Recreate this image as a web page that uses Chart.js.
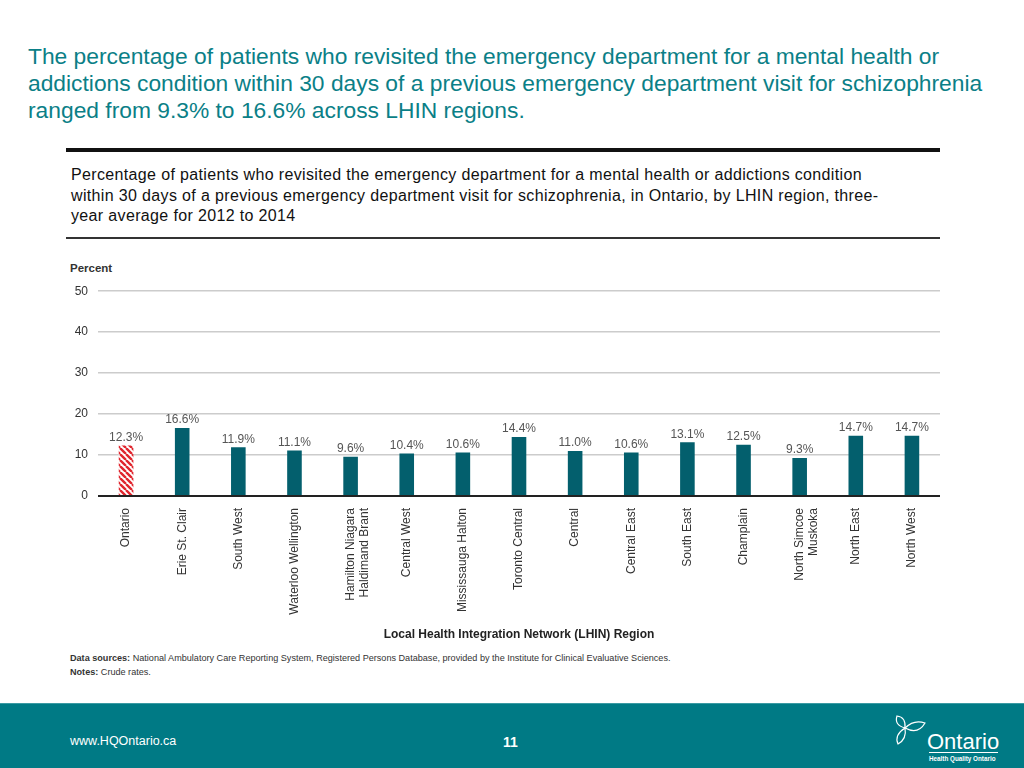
<!DOCTYPE html>
<html>
<head>
<meta charset="utf-8">
<script src="https://cdn.jsdelivr.net/npm/chart.js@4"></script>
<style>
  html, body { margin: 0; padding: 0; background: #fff; }
  body { width: 1024px; height: 768px; position: relative; overflow: hidden; font-family: "Liberation Sans", Arial, sans-serif; }
  .title { position: absolute; left: 28px; top: 43px; width: 990px; color: #0b7f87; font-size: 22.8px; line-height: 27px; white-space: nowrap; }
  .rule-top { position: absolute; left: 66px; top: 148px; width: 874px; height: 4px; background: #111; }
  .subtitle { position: absolute; left: 71px; top: 165px; width: 900px; color: #111; font-size: 16px; letter-spacing: 0.35px; line-height: 20.5px; white-space: nowrap; }
  .rule-bot { position: absolute; left: 66px; top: 237px; width: 874px; height: 2px; background: #333; }
  .percent { position: absolute; left: 70px; top: 262px; font-size: 11.5px; color: #333; font-weight: bold; }
  #chartBox { position: absolute; left: 0; top: 274px; width: 1024px; height: 374px; }
  .notes { position: absolute; left: 70px; top: 651px; font-size: 9.1px; line-height: 14px; color: #333; }
  .footer { position: absolute; left: 0; top: 703px; width: 1024px; height: 65px; background: #007a85; border-top: 1px solid #3a9aa3; }
  .url { position: absolute; left: 70px; top: 30px; color: #fff; font-size: 12.5px; }
  .page { position: absolute; left: 503px; top: 30px; color: #fff; font-size: 14px; font-weight: bold; }
  .logo { position: absolute; left: 927px; top: 25px; color: #fff; font-size: 22px; }
  .logo-line { position: absolute; left: 929px; top: 48px; width: 69px; height: 1px; background: #fff; }
  .logo-sub { position: absolute; left: 929px; top: 51px; color: #fff; font-size: 6.3px; font-weight: bold; }
  .trillium { position: absolute; left: 888px; top: 5px; }
</style>
</head>
<body>
<div class="title">The percentage of patients who revisited the emergency department for a mental health or<br>addictions condition within 30 days of a previous emergency department visit for schizophrenia<br>ranged from 9.3% to 16.6% across LHIN regions.</div>
<div class="rule-top"></div>
<div class="subtitle">Percentage of patients who revisited the emergency department for a mental health or addictions condition<br>within 30 days of a previous emergency department visit for schizophrenia, in Ontario, by LHIN region, three-<br>year average for 2012 to 2014</div>
<div class="rule-bot"></div>
<div class="percent">Percent</div>
<div id="chartBox"><canvas id="lhinChart"></canvas></div>
<div class="notes"><b>Data sources:</b> National Ambulatory Care Reporting System, Registered Persons Database, provided by the Institute for Clinical Evaluative Sciences.<br><b>Notes:</b> Crude rates.</div>
<div class="footer">
  <svg class="trillium" width="42" height="42" viewBox="0 0 42 42" fill="none" stroke="#fff" stroke-width="1.2">
    <path d="M17 19 Q6 16 9 7 Q18 8 17 19 Z"/>
    <path d="M17 19 Q26 10 37 14 Q30 26 17 19 Z"/>
    <path d="M17 19 Q19 30 10 35 Q6 26 17 19 Z"/>
  </svg>
  <div class="url">www.HQOntario.ca</div>
  <div class="page">11</div>
  <div class="logo">Ontario</div>
  <div class="logo-line"></div>
  <div class="logo-sub">Health Quality Ontario</div>
</div>

<script>
// --- 資料 ---
const regions = ['Ontario', 'Erie St. Clair', 'South West', 'Waterloo Wellington',
  ['Hamilton Niagara', 'Haldimand Brant'], 'Central West', 'Mississauga Halton',
  'Toronto Central', 'Central', 'Central East', 'South East', 'Champlain',
  ['North Simcoe', 'Muskoka'], 'North East', 'North West'];
const revisitPct = [12.3, 16.6, 11.9, 11.1, 9.6, 10.4, 10.6, 14.4, 11.0, 10.6, 13.1, 12.5, 9.3, 14.7, 14.7];
const yTicks = [0, 10, 20, 30, 40, 50];
const xTitle = 'Local Health Integration Network (LHIN) Region';

const FONT = '"Liberation Sans", Arial, sans-serif';

// 紅白斜線 (Ontario 平均)
function makeHatch() {
  const c = document.createElement('canvas');
  c.width = 6; c.height = 6;
  const g = c.getContext('2d');
  g.fillStyle = '#ffffff';
  g.fillRect(0, 0, 6, 6);
  g.strokeStyle = '#e0262e';
  g.lineWidth = 2.4;
  g.beginPath();
  for (let k = -6; k <= 6; k += 6) {
    g.moveTo(k, 0);
    g.lineTo(k + 6, 6);
  }
  g.stroke();
  return g.createPattern(c, 'repeat');
}
const hatch = makeHatch();
const barColors = revisitPct.map((v, i) => i === 0 ? hatch : '#035f6d');

// 數值標籤
const valueLabels = {
  id: 'valueLabels',
  afterDatasetsDraw(chart) {
    const { ctx } = chart;
    const meta = chart.getDatasetMeta(0);
    ctx.save();
    ctx.font = '12px ' + FONT;
    ctx.fillStyle = '#555';
    ctx.textAlign = 'center';
    ctx.textBaseline = 'bottom';
    meta.data.forEach((bar, i) => {
      ctx.fillText(revisitPct[i].toFixed(1) + '%', bar.x, bar.y - 2);
    });
    ctx.restore();
  }
};

new Chart(document.getElementById('lhinChart'), {
  type: 'bar',
  data: {
    labels: regions,
    datasets: [{
      data: revisitPct,
      backgroundColor: barColors,
      borderWidth: 0,
      barPercentage: 0.26,
      categoryPercentage: 1
    }]
  },
  options: {
    responsive: true,
    maintainAspectRatio: false,
    animation: false,
    layout: { padding: { top: 4, right: 84, left: 0, bottom: 0 } },
    plugins: { legend: { display: false }, tooltip: { enabled: false } },
    scales: {
      x: {
        afterFit(scale) { scale.height = 152; },
        grid: { display: false },
        border: { display: false },
        ticks: {
          minRotation: 90, maxRotation: 90, autoSkip: false, padding: 4,
          color: '#333', font: { family: FONT, size: 12, lineHeight: 1.15 }
        },
        title: {
          display: true, text: xTitle, color: '#222',
          font: { family: FONT, size: 12, weight: 'bold' },
          padding: { top: 4, bottom: 6 }
        }
      },
      y: {
        min: 0, max: 50,
        afterFit(scale) { scale.width = 98; },
        afterBuildTicks(scale) { scale.ticks = yTicks.map(v => ({ value: v })); },
        border: { display: false },
        grid: {
          drawTicks: false,
          color: c => c.tick.value === 0 ? '#222' : '#cccccc',
          lineWidth: c => c.tick.value === 0 ? 2 : 1.5
        },
        ticks: {
          padding: 10, color: '#333',
          font: { family: FONT, size: 12 }
        }
      }
    }
  },
  plugins: [valueLabels]
});
</script>
</body>
</html>
